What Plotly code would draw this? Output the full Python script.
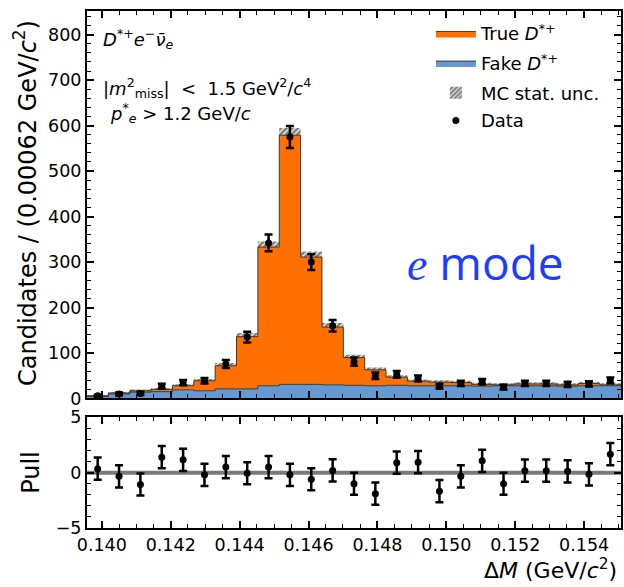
import numpy as np
import plotly.graph_objects as go

# ---------------- data ----------------
x_low = 0.13957
bin_width = 0.00062
n_bins = 25

true_dstar = [2, 2, 3, 5, 9, 22, 51, 115, 305, 548, 280, 127, 61, 35, 18, 10, 8, 7, 4, 2, 4, 4, 3, 5, 2]
fake_dstar = [4, 10, 14, 15, 19, 17, 21, 21, 28, 31, 31, 30, 29, 28, 29, 28, 28, 28, 27, 28, 28, 28, 27, 28, 28]
mc_unc = [1.5, 2, 2.5, 3, 3.5, 4, 6, 8, 12, 16, 12, 9, 6, 5, 4, 4, 4, 4, 3.5, 3.5, 3.5, 3.5, 3.5, 3.5, 3.5]
data_counts = [6, 10, 11, 27, 35, 39, 76, 135, 342, 575, 300, 160, 81, 50, 53, 44, 27, 33, 37, 25, 33, 33, 31, 32, 40]
pulls = [0.36, -0.33, -1.07, 1.4, 1.16, -0.2, 0.5, -0.05, 0.5, -0.2, -0.6, 0.2, -1.0, -1.9, 0.9, 0.95,
         -1.67, -0.33, 1.07, -1.0, 0.18, 0.18, 0.12, -0.15, 1.67]
pull_err = [1.0] * n_bins

# ---------------- derived ----------------
edges = x_low + bin_width * np.arange(n_bins + 1)
centers = 0.5 * (edges[:-1] + edges[1:])
fake = np.array(fake_dstar, float)
total = fake + np.array(true_dstar, float)
unc = np.array(mc_unc, float)
data = np.array(data_counts, float)

ORANGE = "#ff7000"
BLUE = "#6499d1"
EDGE = "#3a3a3a"
FONT = "DejaVu Sans"

fig = go.Figure()

# fake D*+ (bottom of stack)
fig.add_trace(go.Scatter(
    x=edges, y=np.append(fake, fake[-1]), mode="lines", line=dict(shape="hv", color=EDGE, width=1),
    fill="tozeroy", fillcolor=BLUE, name="Fake <i>D</i><sup>*+</sup>", legend="legend2",
    xaxis="x", yaxis="y"))
# true D*+ stacked
fig.add_trace(go.Scatter(
    x=edges, y=np.append(total, total[-1]), mode="lines", line=dict(shape="hv", color=EDGE, width=1),
    fill="tonexty", fillcolor=ORANGE, name="True <i>D</i><sup>*+</sup>", legend="legend",
    xaxis="x", yaxis="y"))
# MC stat unc hatch
fig.add_trace(go.Bar(
    x=centers, base=total - unc, y=2 * unc, width=bin_width,
    marker=dict(color="rgba(0,0,0,0)", line=dict(width=0),
                pattern=dict(shape="/", fgcolor="black", bgcolor="rgba(0,0,0,0)", size=4, solidity=0.7)),
    name="MC stat. unc.", legend="legend3", xaxis="x", yaxis="y"))
# data
fig.add_trace(go.Scatter(
    x=centers, y=data, mode="markers", marker=dict(color="black", size=7),
    error_y=dict(type="data", array=np.sqrt(data), color="black", thickness=2.5, width=4),
    name="Data", legend="legend4", xaxis="x", yaxis="y"))

# pulls
fig.add_trace(go.Scatter(
    x=centers, y=pulls, mode="markers", marker=dict(color="black", size=7),
    error_y=dict(type="data", array=pull_err, color="black", thickness=2.5, width=4),
    showlegend=False, xaxis="x2", yaxis="y2"))

fig.add_shape(type="line", xref="x2 domain", yref="y2", x0=0, x1=1, y0=0, y1=0,
              line=dict(color="#7a7a7a", width=4), layer="below")

xr = [edges[0], edges[-1]]
axis_common = dict(showline=True, linecolor="black", linewidth=2, mirror="ticks",
                   ticks="inside", ticklen=7, tickwidth=1.5, tickcolor="black",
                   showgrid=False, zeroline=False,
                   tickfont=dict(family=FONT, size=17.5, color="black"))
minor_common = dict(ticks="inside", ticklen=4, tickwidth=1, tickcolor="black", showgrid=False)


def legend_at(py):
    return dict(x=0.644, y=(528 - py) / 523, xanchor="left", yanchor="middle",
                bgcolor="rgba(0,0,0,0)", font=dict(family=FONT, size=18), itemwidth=40)


fig.update_layout(
    width=624, height=587,
    margin=dict(l=87, r=1, t=5, b=59),
    paper_bgcolor="white", plot_bgcolor="white",
    barmode="overlay",
    font=dict(family=FONT, size=18, color="black"),
    xaxis=dict(domain=[0, 1], range=xr, anchor="y", showticklabels=False,
               tick0=0.140, dtick=0.002, minor=dict(dtick=0.0005, **minor_common), **axis_common),
    yaxis=dict(domain=[0.2505, 1], range=[0, 852], anchor="x",
               tick0=0, dtick=100, minor=dict(dtick=20, **minor_common), **axis_common),
    xaxis2=dict(domain=[0, 1], range=xr, anchor="y2", matches="x",
                tick0=0.140, dtick=0.002, tickformat=".3f",
                minor=dict(dtick=0.0005, **minor_common), **axis_common),
    yaxis2=dict(domain=[0, 0.2141], range=[-5, 5], anchor="x2",
                tick0=0, dtick=5, minor=dict(dtick=1, **minor_common), **axis_common),
    legend=legend_at(28),
    legend2=legend_at(58),
    legend3=legend_at(88),
    legend4=legend_at(116),
    showlegend=True,
)

ann = []
def add_text(text, px, py, size=18, xanchor="left", **kw):
    ann.append(dict(text=text, x=(px - 87) / 536, y=(528 - py) / 523, xref="paper", yref="paper",
                    xanchor=xanchor, yanchor="middle", showarrow=False,
                    font=dict(family=kw.pop("family", FONT), size=size, color=kw.pop("color", "black")), **kw))

add_text("<i>D</i><sup>*+</sup><i>e</i><sup>−</sup><i>ν̄</i><sub><i>e</i></sub>", 101, 33)
add_text("|<i>m</i><sup>2</sup><sub>miss</sub>|  <  1.5 GeV<sup>2</sup>/<i>c</i><sup>4</sup>", 101, 83)
add_text("<i>p</i><sup>*</sup><sub><i>e</i></sub> > 1.2 GeV/<i>c</i>", 108, 108)
add_text("<span style='font-family:Liberation Serif'><i>e</i></span> mode", 487, 259, size=46,
         xanchor="center", family="Open Sans", color="#1a3dff")
add_text("Candidates / (0.00062 GeV/<i>c</i><sup>2</sup>)", 25, 199, size=24, xanchor="center", textangle=-90)
add_text("Pull", 30, 472, size=24, xanchor="center", textangle=-90)
add_text("Δ<i>M</i> (GeV/<i>c</i><sup>2</sup>)", 621, 569, size=22, xanchor="right")
fig.update_layout(annotations=ann)

fig.write_html("out.html", config={"displayModeBar": False},
               post_script="document.body.style.margin='0';document.body.style.overflow='hidden';")
